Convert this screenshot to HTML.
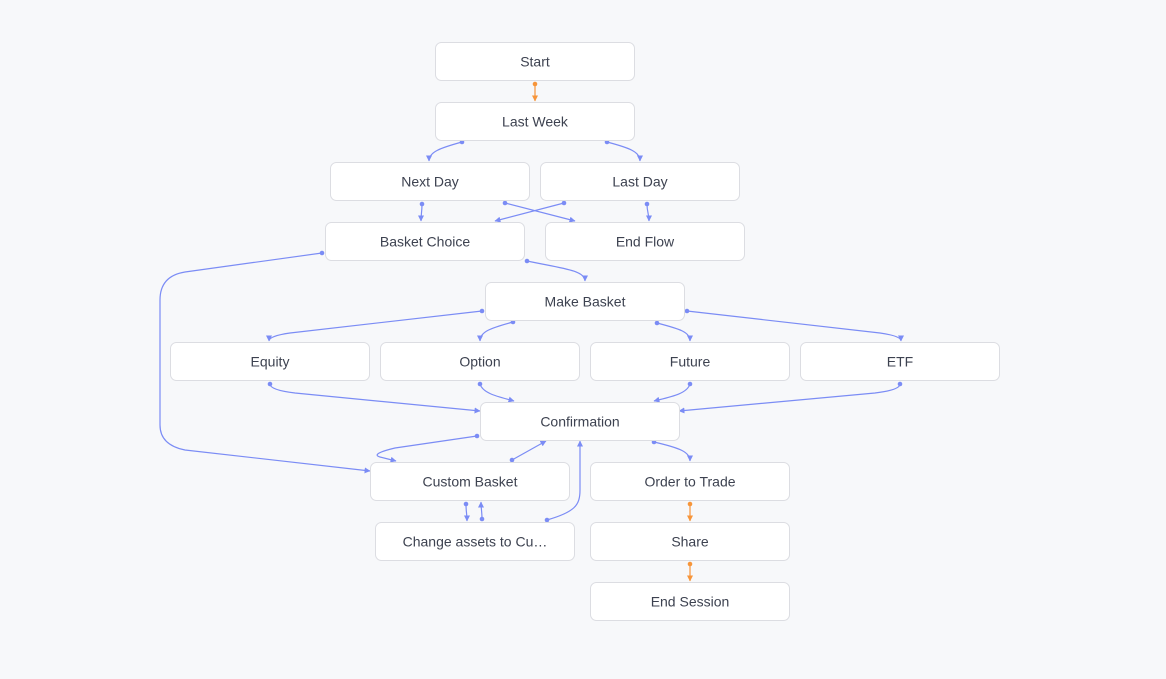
<!DOCTYPE html>
<html><head><meta charset="utf-8"><style>
html,body{margin:0;padding:0;background:#f7f8fa;}
svg{display:block}
text{font-family:"Liberation Sans",sans-serif;font-size:14px;fill:#3d4250;text-anchor:middle;dominant-baseline:central}
.n{fill:#fff;stroke:#dcdde2;stroke-width:1}
.b{fill:none;stroke:#7b8cf5;stroke-width:1.2}
.o{fill:none;stroke:#f7953a;stroke-width:1.2}
</style></head><body>
<svg width="1166" height="679" viewBox="0 0 1166 679" xmlns="http://www.w3.org/2000/svg">
<defs>
<marker id="ab" markerWidth="6" markerHeight="6" refX="5.5" refY="3" orient="auto" markerUnits="userSpaceOnUse"><path d="M0,0 L6,3 L0,6 z" fill="#7b8cf5"/></marker>
<marker id="ao" markerWidth="6" markerHeight="6" refX="5.5" refY="3" orient="auto" markerUnits="userSpaceOnUse"><path d="M0,0 L6,3 L0,6 z" fill="#f7953a"/></marker>
<marker id="db" markerWidth="6" markerHeight="6" refX="3" refY="3" markerUnits="userSpaceOnUse"><circle cx="3" cy="3" r="2.3" fill="#7b8cf5"/></marker>
<marker id="do" markerWidth="6" markerHeight="6" refX="3" refY="3" markerUnits="userSpaceOnUse"><circle cx="3" cy="3" r="2.3" fill="#f7953a"/></marker>
</defs>
<g>
<path class="o" marker-start="url(#do)" marker-end="url(#ao)" d="M535,84 L535,101"/>
<path class="b" marker-start="url(#db)" marker-end="url(#ab)" d="M462,142 C440,148 429,152 429,161"/>
<path class="b" marker-start="url(#db)" marker-end="url(#ab)" d="M607,142 C630,148 640,152 640,161"/>
<path class="b" marker-start="url(#db)" marker-end="url(#ab)" d="M422,204 C422,212 421,214 421,221"/>
<path class="b" marker-start="url(#db)" marker-end="url(#ab)" d="M505,203 L575,221"/>
<path class="b" marker-start="url(#db)" marker-end="url(#ab)" d="M564,203 L495,221"/>
<path class="b" marker-start="url(#db)" marker-end="url(#ab)" d="M647,204 C647,212 649,214 649,221"/>
<path class="b" marker-start="url(#db)" marker-end="url(#ab)" d="M527,261 C560,268 585,270 585,281"/>
<path class="b" marker-start="url(#db)" marker-end="url(#ab)" d="M322,253 L185,272 Q160,276 160,300 L160,425 Q160,445 185,450 L370,471"/>
<path class="b" marker-start="url(#db)" marker-end="url(#ab)" d="M482,311 L290,333 Q269,336 269,341"/>
<path class="b" marker-start="url(#db)" marker-end="url(#ab)" d="M513,322 C490,328 480,332 480,341"/>
<path class="b" marker-start="url(#db)" marker-end="url(#ab)" d="M657,323 C680,329 690,332 690,341"/>
<path class="b" marker-start="url(#db)" marker-end="url(#ab)" d="M687,311 L880,333 Q901,336 901,341"/>
<path class="b" marker-start="url(#db)" marker-end="url(#ab)" d="M270,384 Q270,390 295,393 L480,411"/>
<path class="b" marker-start="url(#db)" marker-end="url(#ab)" d="M480,384 C483,394 500,397 514,401"/>
<path class="b" marker-start="url(#db)" marker-end="url(#ab)" d="M690,384 C687,394 670,397 654,401"/>
<path class="b" marker-start="url(#db)" marker-end="url(#ab)" d="M900,384 Q900,390 875,393 L679,411"/>
<path class="b" marker-start="url(#db)" marker-end="url(#ab)" d="M477,436 L395,448 Q370,454 380,457 L396,461"/>
<path class="b" marker-start="url(#db)" marker-end="url(#ab)" d="M512,460 L546,441"/>
<path class="b" marker-start="url(#db)" marker-end="url(#ab)" d="M654,442 C680,448 690,452 690,461"/>
<path class="b" marker-start="url(#db)" marker-end="url(#ab)" d="M466,504 C466,512 467,514 467,521"/>
<path class="b" marker-start="url(#db)" marker-end="url(#ab)" d="M482,519 C482,512 481,508 481,502"/>
<path class="b" marker-start="url(#db)" marker-end="url(#ab)" d="M547,520 C575,512 580,505 580,490 L580,441"/>
<path class="o" marker-start="url(#do)" marker-end="url(#ao)" d="M690,504 L690,521"/>
<path class="o" marker-start="url(#do)" marker-end="url(#ao)" d="M690,564 L690,581"/>
</g>
<g>
<rect class="n" x="435.5" y="42.5" width="199" height="38" rx="6"/><text x="535" y="61.5">Start</text>
<rect class="n" x="435.5" y="102.5" width="199" height="38" rx="6"/><text x="535" y="121.5">Last Week</text>
<rect class="n" x="330.5" y="162.5" width="199" height="38" rx="6"/><text x="430" y="181.5">Next Day</text>
<rect class="n" x="540.5" y="162.5" width="199" height="38" rx="6"/><text x="640" y="181.5">Last Day</text>
<rect class="n" x="325.5" y="222.5" width="199" height="38" rx="6"/><text x="425" y="241.5">Basket Choice</text>
<rect class="n" x="545.5" y="222.5" width="199" height="38" rx="6"/><text x="645" y="241.5">End Flow</text>
<rect class="n" x="485.5" y="282.5" width="199" height="38" rx="6"/><text x="585" y="301.5">Make Basket</text>
<rect class="n" x="170.5" y="342.5" width="199" height="38" rx="6"/><text x="270" y="361.5">Equity</text>
<rect class="n" x="380.5" y="342.5" width="199" height="38" rx="6"/><text x="480" y="361.5">Option</text>
<rect class="n" x="590.5" y="342.5" width="199" height="38" rx="6"/><text x="690" y="361.5">Future</text>
<rect class="n" x="800.5" y="342.5" width="199" height="38" rx="6"/><text x="900" y="361.5">ETF</text>
<rect class="n" x="480.5" y="402.5" width="199" height="38" rx="6"/><text x="580" y="421.5">Confirmation</text>
<rect class="n" x="370.5" y="462.5" width="199" height="38" rx="6"/><text x="470" y="481.5">Custom Basket</text>
<rect class="n" x="590.5" y="462.5" width="199" height="38" rx="6"/><text x="690" y="481.5">Order to Trade</text>
<rect class="n" x="375.5" y="522.5" width="199" height="38" rx="6"/><text x="475" y="541.5">Change assets to Cu…</text>
<rect class="n" x="590.5" y="522.5" width="199" height="38" rx="6"/><text x="690" y="541.5">Share</text>
<rect class="n" x="590.5" y="582.5" width="199" height="38" rx="6"/><text x="690" y="601.5">End Session</text>
</g>
</svg>
</body></html>
